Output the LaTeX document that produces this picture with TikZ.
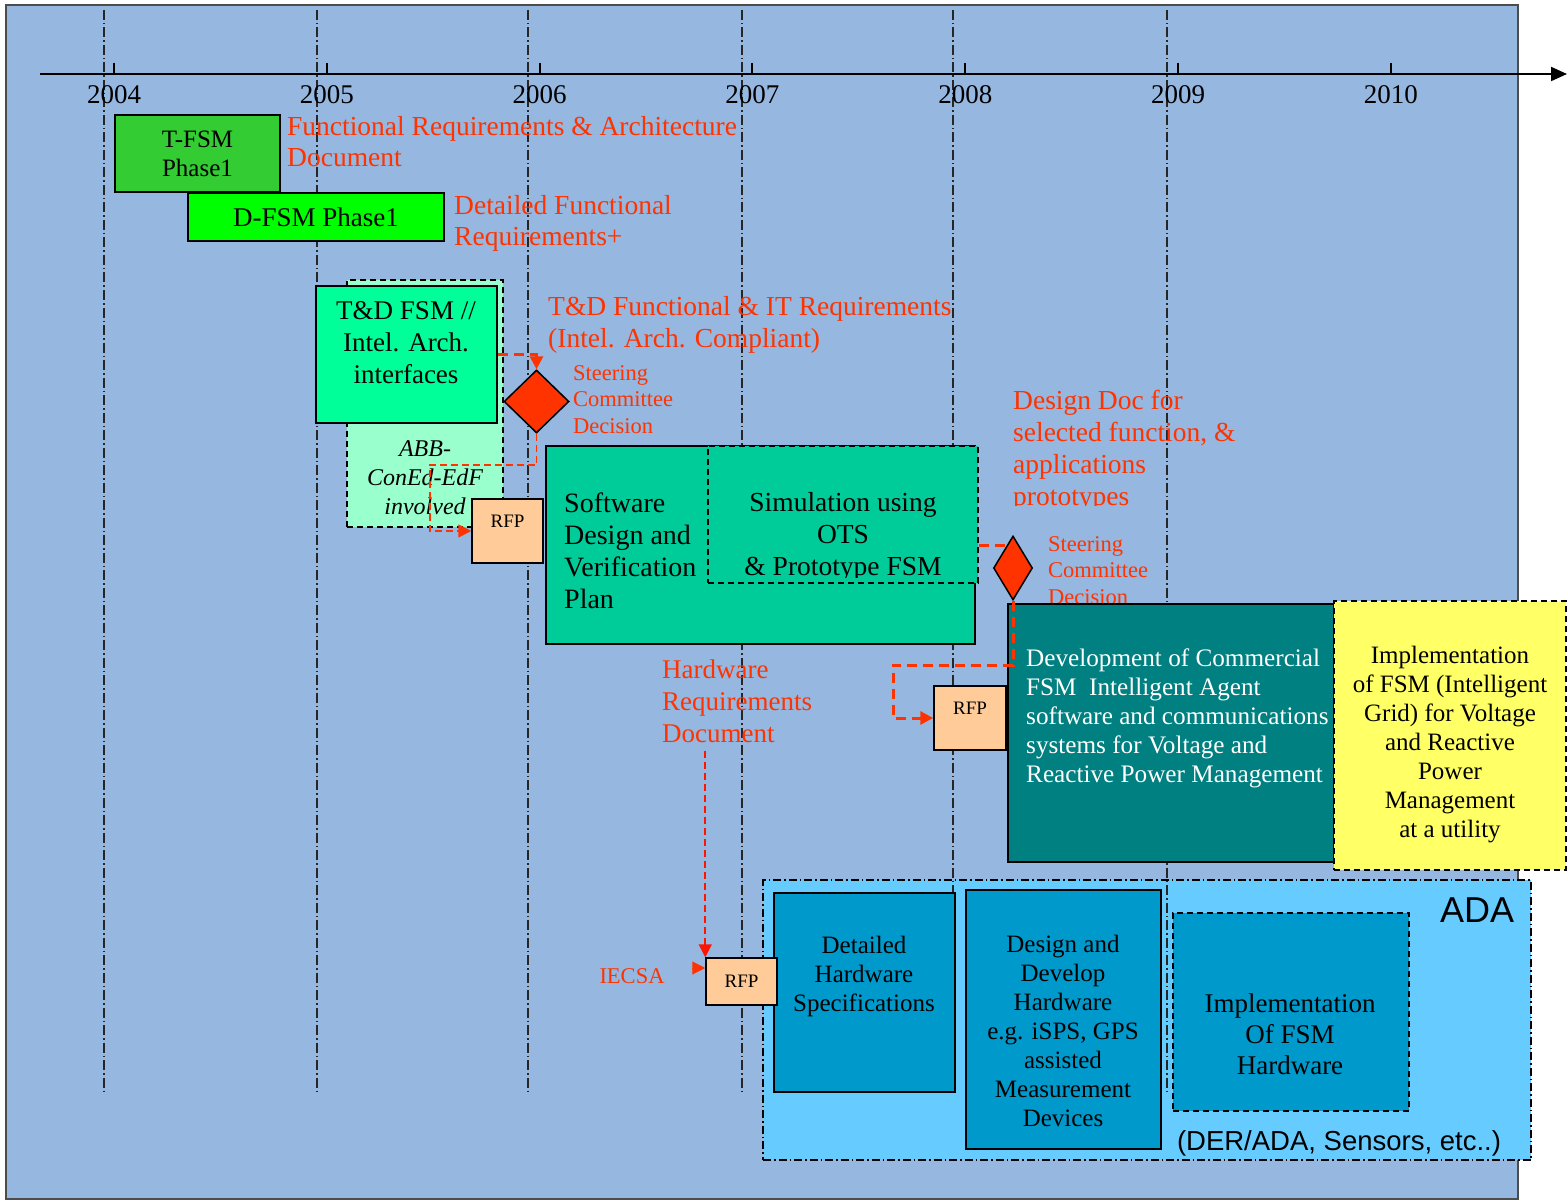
\documentclass[tikz,border=0pt]{standalone}
\usepackage{fontspec}
\setmainfont{Liberation Serif}
\newfontfamily\sansf{Liberation Sans}
\usetikzlibrary{shapes.geometric,arrows.meta}
\definecolor{bgblue}{RGB}{149,183,224}
\definecolor{redc}{RGB}{255,51,0}
\definecolor{tgreen}{RGB}{51,204,51}
\definecolor{dgreen}{RGB}{0,255,0}
\definecolor{mint}{RGB}{153,255,204}
\definecolor{tdgreen}{RGB}{0,255,153}
\definecolor{rfpc}{RGB}{255,204,153}
\definecolor{swgreen}{RGB}{0,204,153}
\definecolor{tealc}{RGB}{0,128,128}
\definecolor{yel}{RGB}{255,255,102}
\definecolor{adab}{RGB}{102,204,255}
\definecolor{hwb}{RGB}{0,153,204}
\definecolor{pured}{RGB}{255,20,0}
\newcommand{\fs}[2]{\fontsize{#1}{#2}\selectfont}
\tikzset{
  box/.style={draw=black, line width=1.5pt, inner sep=0pt, align=center},
  dbox/.style={box, dash pattern=on 6pt off 4pt},
  lbl/.style={text=redc, inner sep=0pt, align=left, anchor=west},
  ctext/.style={inner sep=0pt, align=center},
  vline/.style={draw=black!85, line width=1.1pt, dash pattern=on 10pt off 3pt on 1.5pt off 3pt},
  thickdash/.style={draw=redc, line width=3pt, dash pattern=on 10pt off 6pt},
  thindash/.style={draw=redc, line width=1.8pt, dash pattern=on 7pt off 4pt},
  arrowed/.style={-{Triangle[length=13pt,width=13pt]}},
  deci/.style={diamond, draw=black, line width=1.5pt, fill=redc, inner sep=0pt},
  rfpbox/.style={box, fill=rfpc, font=\fs{19}{23}},
}
\begin{document}
\begin{tikzpicture}[x=1pt,y=-1pt]
\useasboundingbox (0,0) rectangle (1567,1201);
\fill[white] (0,0) rectangle (1567,1201);
% background panel
\draw[fill=bgblue, draw=black!70, line width=1.5pt] (6,5) rectangle (1518,1199);
% ADA region
\node[draw=black, line width=1.3pt, dash pattern=on 8pt off 3pt on 1.5pt off 3pt, fill=adab,
      minimum width=768pt, minimum height=280pt, inner sep=0pt] (ada) at (1147,1020) {};
% vertical year separators
\foreach \x in {104,317,528,742,953,1167} \draw[vline] (\x,10) -- (\x,1091);
% time axis
\coordinate (ax0) at (40,74);
\coordinate (ax1) at (1567,74);
\draw[line width=2pt, -{Triangle[length=16pt,width=14pt]}] (ax0) -- (ax1);
\foreach \yr [count=\i from 0] in {2004,2005,2006,2007,2008,2009,2010} {
  \draw[line width=2pt] (114+212.83*\i,63) -- (114+212.83*\i,74);
  \node[ctext, font=\fs{27}{32}] (y\yr) at (114+212.83*\i,95) {\yr};
}
% red labels
\node[lbl, font=\fs{27.5}{31}] (frad) at (287,141.5) {Functional Requirements \& Architecture\\Document};
\node[lbl, font=\fs{27.5}{31}] (dfr) at (454,223.5) {Detailed Functional\\Requirements+};
\node[lbl, font=\fs{27.5}{32}] (tdfr) at (548,325) {T\&D Functional \& IT Requirements\\(Intel. Arch. Compliant)};
\node[lbl, font=\fs{22.5}{26.5}] (sc1) at (573,399.5) {Steering\\Committee\\Decision};
\begin{scope}
\clip (1000,380) rectangle (1300,505);
\node[lbl, font=\fs{27.5}{32}] (ddoc) at (1013,451) {Design Doc for\\selected function, \&\\applications\\prototypes};
\end{scope}
\node[lbl, font=\fs{22.5}{26.5}] (sc2) at (1048,570.5) {Steering\\Committee\\Decision};
\node[lbl, font=\fs{27}{32}] (hwreq) at (662,701) {Hardware\\Requirements\\Document};
\node[ctext, text=redc, font=\fs{22.5}{27}] (iecsa) at (632,976) {IECSA};
% boxes
\node[box, fill=tgreen, minimum width=165pt, minimum height=77pt, font=\fs{25}{29}] (tfsm) at (197.5,153.5) {T-FSM\\Phase1};
\node[box, fill=dgreen, minimum width=256pt, minimum height=48pt, font=\fs{27}{29}] (dfsm) at (316,217) {D-FSM Phase1};
\node[dbox, fill=mint, minimum width=156pt, minimum height=247pt] (abb) at (425,403.5) {};
\node[ctext, font=\fs{24}{29}\itshape] (abbt) at (425,478) {ABB-\\ConEd-EdF\\involved};
\node[box, fill=tdgreen, minimum width=181pt, minimum height=137pt] (tdfsm) at (406.5,354.5) {};
\node[ctext, font=\fs{27}{32}] (tdt) at (406,343) {T\&D FSM //\\Intel. Arch.\\interfaces};
\node[rfpbox, minimum width=71pt, minimum height=64pt, text height=13pt, text depth=21pt] (rfp1) at (507.5,531) {RFP};
\node[box, fill=swgreen, minimum width=429pt, minimum height=198pt] (sw) at (760.5,545) {};
\node[lbl, text=black, font=\fs{28}{32}] (swt) at (564,550.5) {Software\\Design and\\Verification\\Plan};
\node[dbox, fill=swgreen, minimum width=270pt, minimum height=137pt] (sim) at (843,514.5) {};
\begin{scope}
\clip (sim.north west) rectangle (978,577);
\node[ctext, font=\fs{27.5}{32}] (simt) at (843,537) {Simulation using\\OTS\\\& Prototype FSM};
\end{scope}
\node[rfpbox, minimum width=72pt, minimum height=64pt, text height=13pt, text depth=21pt] (rfp2) at (970,718) {RFP};
\node[box, fill=tealc, minimum width=326pt, minimum height=258pt] (dev) at (1171,733) {};
\node[lbl, text=white, font=\fs{25.2}{29}] (devt) at (1026,718) {Development of Commercial\\FSM\ \ Intelligent Agent\\software and communications\\systems for Voltage and\\Reactive Power Management};
\node[dbox, fill=yel, minimum width=232pt, minimum height=269pt] (yellow) at (1450,735.5) {};
\node[ctext, font=\fs{25}{29}] (yelt) at (1450,745) {Implementation\\of FSM (Intelligent\\Grid) for Voltage\\and Reactive\\Power\\Management\\at a utility};
\node[box, fill=hwb, minimum width=181pt, minimum height=199pt] (hwdet) at (864.5,992.5) {};
\node[ctext, font=\fs{25}{29}] (hwdett) at (864,976) {Detailed\\Hardware\\Specifications};
\node[box, fill=hwb, minimum width=195pt, minimum height=259pt] (hwdes) at (1063.5,1019.5) {};
\node[ctext, font=\fs{25}{29}] (hwdest) at (1063,1031) {Design and\\Develop\\Hardware\\e.g. iSPS, GPS\\assisted\\Measurement\\Devices};
\node[dbox, fill=hwb, minimum width=236pt, minimum height=198pt] (hwimp) at (1291,1012) {};
\node[ctext, font=\fs{27}{31}] (hwimpt) at (1290,1034) {Implementation\\Of FSM\\Hardware};
\node[rfpbox, minimum width=71pt, minimum height=47pt] (rfp3) at (741.5,981.5) {RFP};
\node[ctext, font=\sansf\fs{36}{40}] (adat) at (1477,910) {ADA};
\node[ctext, font=\sansf\fs{27.5}{31}] (dert) at (1339,1143) {(DER/ADA, Sensors, etc..)};
% decisions
\node[deci, minimum width=65pt, minimum height=63pt] (dia1) at (536.5,401.5) {};
\node[deci, minimum width=39pt, minimum height=64pt] (dia2) at (1013,568) {};
% connectors
\coordinate (k1) at (430,465);
\coordinate (k2) at (893,665);
\coordinate (k3) at (1006,545);
\coordinate (k4) at (692,968);
\draw[thickdash, arrowed] (tdfsm.east) -| (dia1.north);
\draw[thindash, arrowed] (dia1.south) |- (k1) |- (rfp1.west);
\draw[thickdash] (sim.east |- k3) -- (k3);
\draw[thickdash, arrowed] (dia2.south) |- (k2) |- (rfp2.west);
\draw[draw=pured, line width=1.6pt, dash pattern=on 7pt off 4pt, arrowed, shorten <=8pt] (hwreq.south -| rfp3.north west) -- (rfp3.north west);
\draw[draw=redc, line width=1pt, arrowed] (k4) -- (k4 -| rfp3.west);
\end{tikzpicture}
\end{document}
